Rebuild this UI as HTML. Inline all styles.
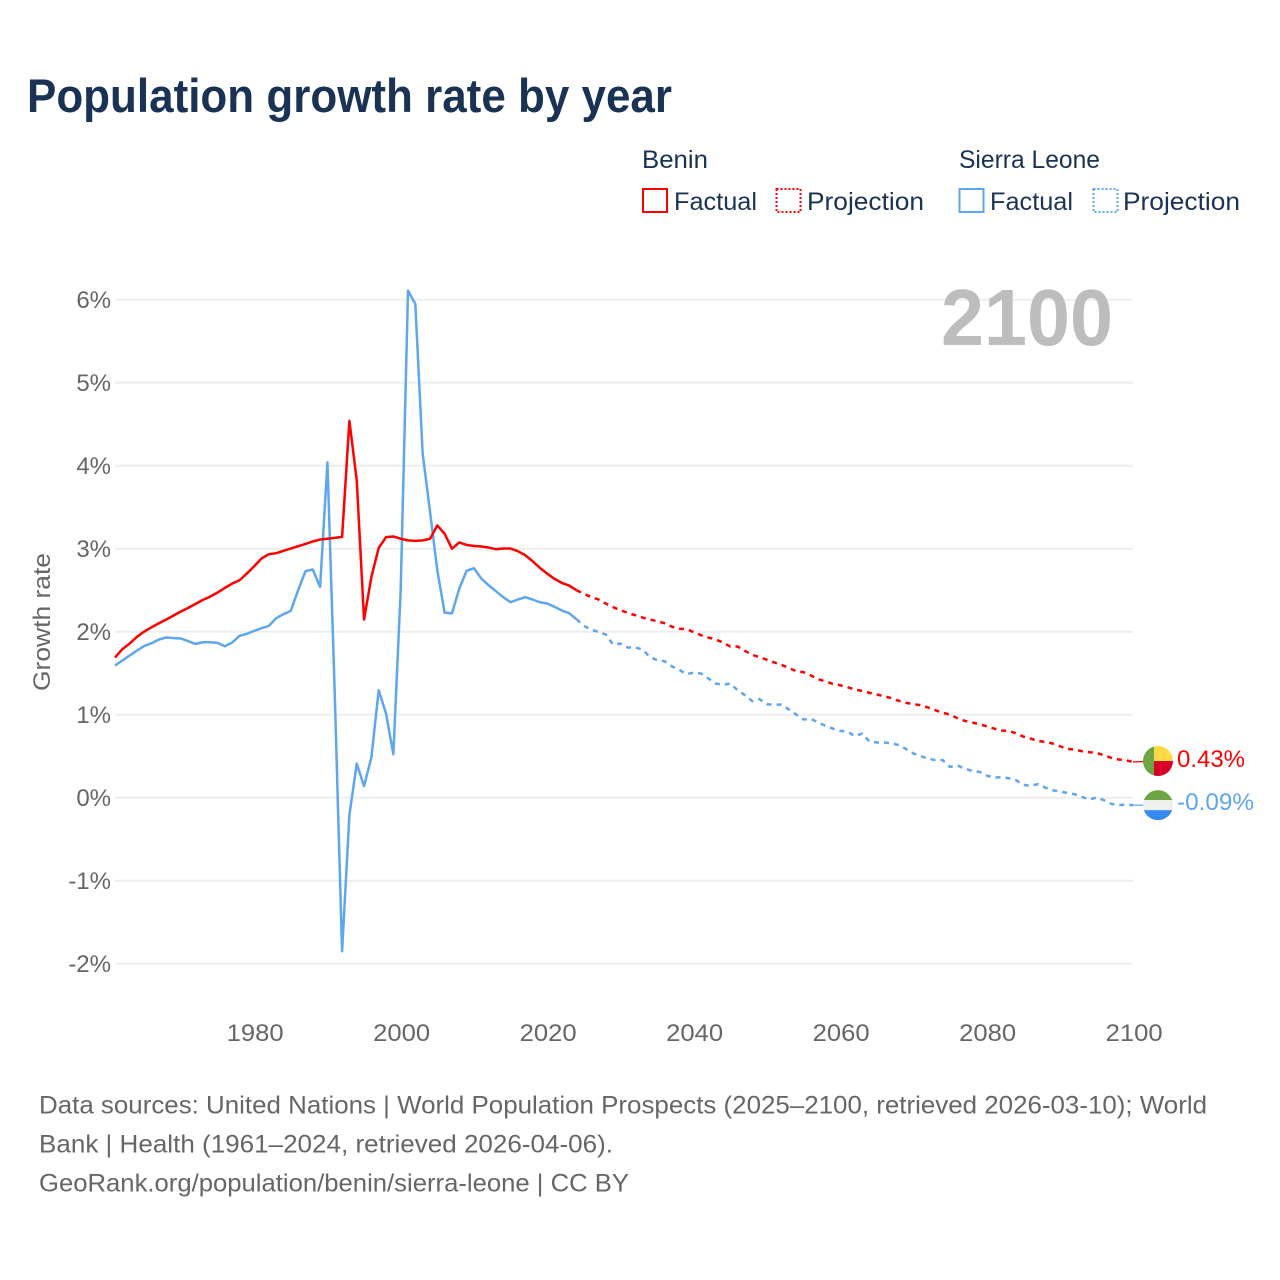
<!DOCTYPE html>
<html lang="en">
<head>
<meta charset="utf-8">
<title>Population growth rate by year</title>
<style>
html,body{margin:0;padding:0;background:#fff;}
svg{display:block;font-family:"Liberation Sans",sans-serif;}
</style>
</head>
<body>
<svg id="chart" xmlns="http://www.w3.org/2000/svg" width="1280" height="1280" viewBox="0 0 1280 1280">
  <rect x="0" y="0" width="1280" height="1280" fill="#ffffff"/>
  <text x="27" y="112" font-size="47" font-weight="700" fill="#1a3254" textLength="645" lengthAdjust="spacingAndGlyphs">Population growth rate by year</text>

  <g font-size="25" fill="#1a3254">
    <text x="642" y="168" textLength="66" lengthAdjust="spacingAndGlyphs">Benin</text>
    <rect x="643" y="189" width="24" height="23" fill="none" stroke="#ff0000" stroke-width="2"/>
    <text x="674" y="210" textLength="83" lengthAdjust="spacingAndGlyphs">Factual</text>
    <rect x="776.5" y="189" width="24" height="23" fill="none" stroke="#ff0000" stroke-width="2" stroke-dasharray="2,2"/>
    <text x="807" y="210" textLength="117" lengthAdjust="spacingAndGlyphs">Projection</text>
    <text x="959" y="168" textLength="141" lengthAdjust="spacingAndGlyphs">Sierra Leone</text>
    <rect x="959.5" y="189" width="24" height="23" fill="none" stroke="#5ea6ee" stroke-width="2"/>
    <text x="990" y="210" textLength="83" lengthAdjust="spacingAndGlyphs">Factual</text>
    <rect x="1093.5" y="189" width="24" height="23" fill="none" stroke="#5ea6ee" stroke-width="2" stroke-dasharray="2,2"/>
    <text x="1123" y="210" textLength="117" lengthAdjust="spacingAndGlyphs">Projection</text>
  </g>

  <g id="grid"></g>
  <g id="yticks"></g>
  <g id="xticks"></g>

  <text transform="translate(50,622) rotate(-90)" text-anchor="middle" font-size="24" fill="#666666" textLength="138" lengthAdjust="spacingAndGlyphs">Growth rate</text>
  <text x="941" y="345" font-size="80" font-weight="700" fill="#bdbdbd" textLength="172" lengthAdjust="spacingAndGlyphs">2100</text>

  <g id="series"></g>

  <g id="benin-flag"></g>
  <g id="sierra-flag"></g>
  <g id="endlabels"></g>

  <g font-size="25" fill="#666666">
    <text x="39" y="1113.5" textLength="1168" lengthAdjust="spacingAndGlyphs">Data sources: United Nations | World Population Prospects (2025–2100, retrieved 2026-03-10); World</text>
    <text x="39" y="1152.5" textLength="574" lengthAdjust="spacingAndGlyphs">Bank | Health (1961–2024, retrieved 2026-04-06).</text>
    <text x="39" y="1191.5" textLength="590" lengthAdjust="spacingAndGlyphs">GeoRank.org/population/benin/sierra-leone | CC BY</text>
  </g>
</svg>
<script>
const xTickYears = [1980, 2000, 2020, 2040, 2060, 2080, 2100];
const yTickValues = [-2, -1, 0, 1, 2, 3, 4, 5, 6];
const factualStartYear = 1961;
const projectionStartYear = 2025;
const beninFactual = [1.689,1.789,1.858,1.938,2.002,2.054,2.102,2.147,2.195,2.243,2.287,2.335,2.383,2.423,2.472,2.528,2.58,2.62,2.70,2.789,2.882,2.934,2.946,2.974,3.002,3.03,3.058,3.087,3.11,3.12,3.13,3.142,4.54,3.825,2.147,2.66,3.01,3.139,3.147,3.12,3.10,3.094,3.10,3.118,3.28,3.18,3.00,3.075,3.045,3.034,3.026,3.014,2.994,3.002,3.002,2.97,2.922,2.85,2.769,2.70,2.636,2.588,2.556,2.50];
const beninProjection = [2.456,2.420,2.388,2.339,2.295,2.259,2.227,2.199,2.171,2.147,2.127,2.102,2.062,2.034,2.034,1.994,1.958,1.930,1.906,1.870,1.821,1.821,1.769,1.721,1.693,1.661,1.629,1.600,1.564,1.524,1.512,1.472,1.428,1.400,1.371,1.355,1.331,1.303,1.287,1.263,1.243,1.223,1.199,1.167,1.143,1.127,1.114,1.086,1.054,1.022,1.002,0.958,0.926,0.906,0.886,0.861,0.833,0.809,0.805,0.777,0.737,0.713,0.681,0.673,0.653,0.620,0.588,0.580,0.560,0.548,0.540,0.512,0.480,0.460,0.452,0.43];
const sierraFactual = [1.592,1.653,1.713,1.773,1.829,1.861,1.906,1.930,1.922,1.918,1.886,1.853,1.873,1.873,1.865,1.825,1.870,1.950,1.974,2.010,2.042,2.070,2.163,2.211,2.251,2.5,2.729,2.749,2.540,4.04,1.25,-1.85,-0.21,0.41,0.14,0.484,1.295,1.014,0.524,2.5,6.11,5.95,4.147,3.45,2.74,2.23,2.22,2.52,2.733,2.765,2.64,2.56,2.488,2.416,2.355,2.388,2.416,2.388,2.355,2.34,2.30,2.255,2.223,2.15];
const sierraProjection = [2.070,2.026,1.998,1.966,1.845,1.857,1.809,1.813,1.785,1.697,1.657,1.645,1.584,1.544,1.488,1.508,1.496,1.436,1.376,1.359,1.376,1.295,1.235,1.163,1.187,1.127,1.118,1.123,1.062,1.002,0.942,0.950,0.906,0.865,0.833,0.805,0.797,0.741,0.773,0.677,0.665,0.665,0.657,0.633,0.588,0.532,0.500,0.472,0.452,0.452,0.371,0.388,0.351,0.323,0.311,0.267,0.243,0.247,0.235,0.211,0.155,0.143,0.163,0.122,0.090,0.074,0.058,0.042,0.010,-0.022,0.002,-0.030,-0.074,-0.090,-0.082,-0.09];

const NS = 'http://www.w3.org/2000/svg';
const RED = '#ff0000';
const BLUE = '#5ea6ee';
const LINE_W = 2.5;
const xScale = function (year) { return 115 + 7.325 * (year - 1961); };
const yScale = function (value) { return 797.7 - 83 * value; };

function make(tag, attrs, parent) {
  const el = document.createElementNS(NS, tag);
  for (const k in attrs) { el.setAttribute(k, attrs[k]); }
  parent.appendChild(el);
  return el;
}

const gridGroup = document.getElementById('grid');
const yTickGroup = document.getElementById('yticks');
yTickValues.forEach(function (v) {
  const line = make('line', { x1: 115, x2: 1133, y1: yScale(v), y2: yScale(v), stroke: '#eeeeee', 'stroke-width': 2 }, gridGroup);
  
  
  const label = make('text', { x: 111, y: yScale(v) + 8.5, 'text-anchor': 'end', 'font-size': 24, fill: '#666666' }, yTickGroup);
  label.textContent = v + '%';
  
  
});

const xTickGroup = document.getElementById('xticks');
xTickYears.forEach(function (yr) {
  const label = make('text', { x: xScale(yr) + 1, y: 1041, 'text-anchor': 'middle', 'font-size': 24.5, fill: '#666666', textLength: 57, lengthAdjust: 'spacingAndGlyphs' }, xTickGroup);
  label.textContent = String(yr);
  
  
});

function pathFrom(values, startYear, prefix) {
  let d = prefix || '';
  values.forEach(function (v, i) {
    d += (d ? 'L' : 'M') + xScale(startYear + i).toFixed(2) + ' ' + yScale(v).toFixed(2);
  });
  return d;
}

const seriesGroup = document.getElementById('series');
function anchor(values, startYear) {
  const last = values.length - 1;
  return 'M' + xScale(startYear + last).toFixed(2) + ' ' + yScale(values[last]).toFixed(2);
}

const sierraFactualLine = make('path', { d: pathFrom(sierraFactual, factualStartYear), fill: 'none', stroke: BLUE, 'stroke-width': LINE_W, 'stroke-linejoin': 'round' }, seriesGroup);



const sierraProjectionLine = make('path', { d: pathFrom(sierraProjection, projectionStartYear, anchor(sierraFactual, factualStartYear)), fill: 'none', stroke: BLUE, 'stroke-width': LINE_W, 'stroke-dasharray': '5,5' }, seriesGroup);



const beninFactualLine = make('path', { d: pathFrom(beninFactual, factualStartYear), fill: 'none', stroke: RED, 'stroke-width': LINE_W, 'stroke-linejoin': 'round' }, seriesGroup);



const beninProjectionLine = make('path', { d: pathFrom(beninProjection, projectionStartYear, anchor(beninFactual, factualStartYear)), fill: 'none', stroke: RED, 'stroke-width': LINE_W, 'stroke-dasharray': '5,5' }, seriesGroup);



const lastBenin = beninProjection[beninProjection.length - 1];
const lastSierra = sierraProjection[sierraProjection.length - 1];
const beninY = yScale(lastBenin);
const sierraY = yScale(lastSierra);

const beninConnector = make('line', { x1: 1133, x2: 1144, y1: beninY, y2: beninY - 0.5, stroke: RED, 'stroke-width': 1.2 }, seriesGroup);


const sierraConnector = make('line', { x1: 1133, x2: 1144, y1: sierraY, y2: sierraY, stroke: BLUE, 'stroke-width': 1.2 }, seriesGroup);



const FLAG_X = 1158;
const FLAG_R = 15;
const defs = make('defs', {}, document.getElementById('chart'));
const clipB = make('clipPath', { id: 'clip-benin' }, defs);
make('circle', { cx: FLAG_X, cy: beninY - 1, r: FLAG_R }, clipB);
const clipS = make('clipPath', { id: 'clip-sierra' }, defs);
make('circle', { cx: FLAG_X, cy: sierraY, r: FLAG_R }, clipS);

const bf = document.getElementById('benin-flag');
bf.setAttribute('clip-path', 'url(#clip-benin)');
make('rect', { x: FLAG_X - FLAG_R, y: beninY - 1 - FLAG_R, width: 11, height: 30, fill: '#6da544' }, bf);
make('rect', { x: FLAG_X - 4, y: beninY - 1 - FLAG_R, width: 19, height: 15, fill: '#ffda44' }, bf);
make('rect', { x: FLAG_X - 4, y: beninY - 1, width: 19, height: 15, fill: '#d80027' }, bf);

const sf = document.getElementById('sierra-flag');
sf.setAttribute('clip-path', 'url(#clip-sierra)');
make('rect', { x: FLAG_X - FLAG_R, y: sierraY - FLAG_R, width: 30, height: 10, fill: '#6da544' }, sf);
make('rect', { x: FLAG_X - FLAG_R, y: sierraY - 5, width: 30, height: 10, fill: '#f0f0f0' }, sf);
make('rect', { x: FLAG_X - FLAG_R, y: sierraY + 5, width: 30, height: 10, fill: '#338af3' }, sf);

const endGroup = document.getElementById('endlabels');
const beninEnd = make('text', { x: 1177, y: beninY + 5, 'font-size': 24, fill: RED, textLength: 68, lengthAdjust: 'spacingAndGlyphs' }, endGroup);
beninEnd.textContent = lastBenin.toFixed(2) + '%';


const sierraEnd = make('text', { x: 1177, y: sierraY + 5, 'font-size': 24, fill: BLUE, textLength: 77, lengthAdjust: 'spacingAndGlyphs' }, endGroup);
sierraEnd.textContent = lastSierra.toFixed(2) + '%';


</script>
</body>
</html>
